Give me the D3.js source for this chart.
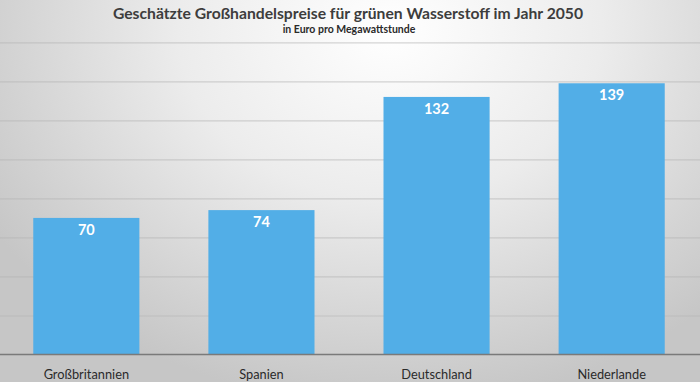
<!DOCTYPE html>
<html><head><meta charset="utf-8">
<script src="https://cdn.jsdelivr.net/npm/d3@7/dist/d3.min.js"></script>
<style>html,body{margin:0;padding:0;overflow:hidden;background:#fff}</style>
</head><body>
<svg id="c" width="700" height="382"></svg>
<script>
const categories = ["Großbritannien", "Spanien", "Deutschland", "Niederlande"];
const values = [70, 74, 132, 139];
const yTicks = [20, 40, 60, 80, 100, 120, 140, 160];
const title = "Geschätzte Großhandelspreise für grünen Wasserstoff im Jahr 2050";
const subtitle = "in Euro pro Megawattstunde";

const W = 700, H = 382;
const svg = d3.select("#c");
const defs = svg.append("defs");
const rg = defs.append("radialGradient").attr("id", "bg")
  .attr("gradientUnits", "userSpaceOnUse")
  .attr("cx", 390).attr("cy", 30).attr("r", 470)
  .attr("gradientTransform", "translate(390,30) scale(1,0.8) translate(-390,-30)");
rg.append("stop").attr("offset", "0").attr("stop-color", "#ffffff");
rg.append("stop").attr("offset", "0.45").attr("stop-color", "#ececec");
rg.append("stop").attr("offset", "1").attr("stop-color", "#c6c6c6");
svg.append("rect").attr("width", W).attr("height", H).attr("fill", "url(#bg)");

const x = d3.scaleBand().domain(categories).range([0, 698]).paddingInner(0.394).paddingOuter(0.19);
const y = d3.scaleLinear().domain([0, 160]).range([354.5, 42.3]);

const grid = svg.append("g").call(d3.axisLeft(y).tickValues(yTicks).tickSize(-W).tickFormat(""));
grid.select(".domain").remove();
grid.selectAll(".tick line").attr("x1", 0).attr("x2", W)
  .attr("stroke", "#b4b4b4").attr("stroke-opacity", 0.55).attr("stroke-width", 1.2);

svg.append("g").selectAll("rect").data(values).join("rect")
  .attr("x", (d, i) => x(categories[i]))
  .attr("width", x.bandwidth())
  .attr("y", d => y(d))
  .attr("height", d => y(0) - y(d))
  .attr("fill", "#52aee7");

const xa = svg.append("g").attr("transform", `translate(0,${y(0)})`)
  .call(d3.axisBottom(x).tickSize(0).tickPadding(15));
xa.select(".domain").attr("d", `M0,0H${W}`).attr("stroke", "#7a7a7a").attr("stroke-width", 1.5);
xa.selectAll("text").attr("font-family", "Lato, 'Open Sans', sans-serif").attr("font-size", 12.8)
  .attr("fill", "#2a2a2a");

svg.append("g").selectAll("text").data(values).join("text")
  .attr("x", (d, i) => x(categories[i]) + x.bandwidth() / 2)
  .attr("y", d => y(d) + 17)
  .attr("text-anchor", "middle")
  .attr("font-family", "Lato, 'Open Sans', sans-serif").attr("font-weight", "bold")
  .attr("font-size", 14.5).attr("fill", "#ffffff")
  .text(d => d);

svg.append("text").attr("x", 348).attr("y", 18.5).attr("text-anchor", "middle")
  .attr("font-family", "Lato, 'Open Sans', sans-serif").attr("font-weight", "bold")
  .attr("font-size", 15.7).attr("fill", "#3d3d3d").text(title);
svg.append("text").attr("x", 349).attr("y", 33).attr("text-anchor", "middle")
  .attr("font-family", "Lato, 'Open Sans', sans-serif").attr("font-weight", "bold")
  .attr("font-size", 10.5).attr("fill", "#2a2a2a").text(subtitle);
</script>
</body></html>
